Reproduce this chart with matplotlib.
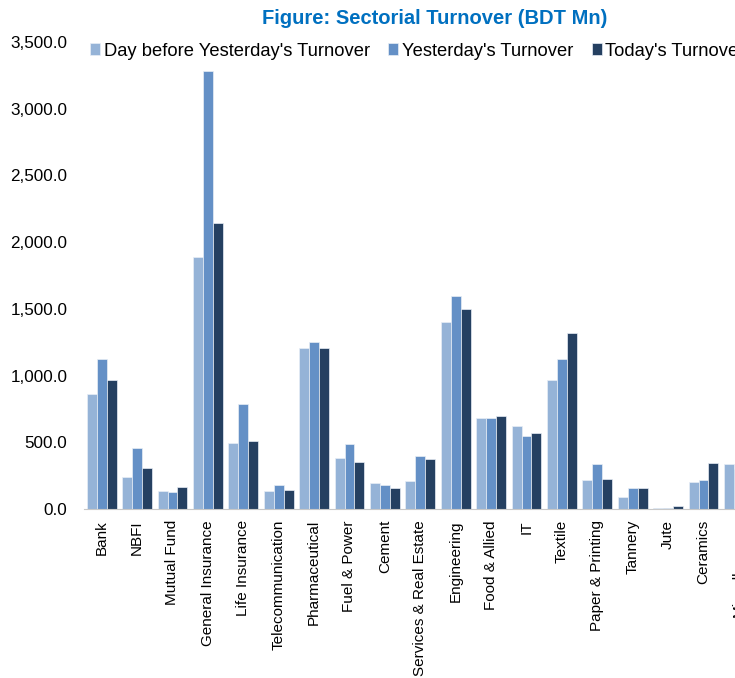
import matplotlib.pyplot as plt
import numpy as np

plt.rcParams['font.family'] = ['Liberation Sans', 'DejaVu Sans']

sectors = ['Bank', 'NBFI', 'Mutual Fund', 'General Insurance', 'Life Insurance',
           'Telecommunication', 'Pharmaceutical', 'Fuel & Power', 'Cement',
           'Services & Real Estate', 'Engineering', 'Food & Allied', 'IT', 'Textile',
           'Paper & Printing', 'Tannery', 'Jute', 'Ceramics', 'Miscellaneous']
day_before = [860, 237, 137, 1892, 492, 134, 1209, 381, 193, 210, 1400, 680, 625, 965,
              218, 90, 10, 200, 338]
yesterday = [1127, 455, 130, 3280, 790, 177, 1249, 486, 178, 400, 1600, 680, 548, 1127,
             335, 160, 10, 218, 300]
today = [969, 305, 165, 2143, 507, 140, 1209, 350, 155, 373, 1502, 695, 568, 1318,
         225, 160, 20, 345, 320]
series_names = ["Day before Yesterday's Turnover", "Yesterday's Turnover", "Today's Turnover"]
colors = ['#95B3D7', '#6490C6', '#254061']

fig = plt.figure(figsize=(7.35, 6.78), dpi=100)
# the axes run past the right edge, as in the cropped original
ax = fig.add_axes([84 / 735, 169 / 678, len(sectors) * 35.4 / 735, 467 / 678])

x = np.arange(len(sectors))
w = 0.28
for i, (vals, name, c) in enumerate(zip([day_before, yesterday, today], series_names, colors)):
    ax.bar(x + (i - 1) * w, vals, width=w, color=c, edgecolor='#E8EEF6', linewidth=0.5, label=name)

ax.set_xlim(-0.5, len(sectors) - 0.5)
ax.set_ylim(0, 3500)
ax.set_yticks(np.arange(0, 3501, 500))
ax.set_yticklabels([f'{v:,.1f}' for v in np.arange(0, 3501, 500)], fontsize=12.3)
ax.set_xticks(x)
ax.set_xticklabels(sectors, rotation=90, fontsize=11)
ax.tick_params(axis='x', length=0, pad=8)
ax.tick_params(axis='y', length=0, pad=12)
for s in ['top', 'right', 'left']:
    ax.spines[s].set_visible(False)
ax.spines['bottom'].set_color('#C8C8C8')

fig.text(435 / 735, 1 - 18 / 678, 'Figure: Sectorial Turnover (BDT Mn)', ha='center', va='center',
         fontsize=14.5, fontweight='bold', color='#0070C0')
fig.legend(loc='center left', bbox_to_anchor=(90 / 735, 1 - 51 / 678), ncol=3, frameon=False,
           fontsize=13.2, handlelength=0.55, handleheight=0.55, handletextpad=0.2,
           columnspacing=1.0, borderaxespad=0, borderpad=0)

fig.savefig('out.png', dpi=100)
